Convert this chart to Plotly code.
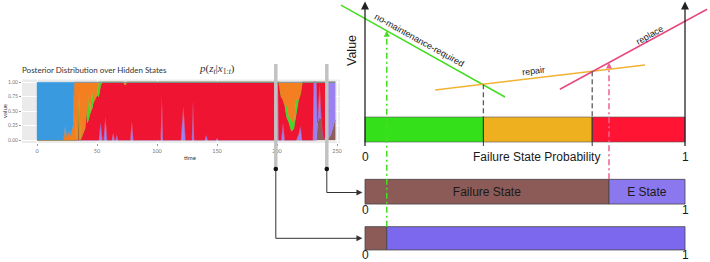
import numpy as np
import plotly.graph_objects as go

# ---------------- DATA ----------------
# Posterior distribution over hidden states (stacked, bottom -> top)
TIME = [0, 22, 23.5, 25, 26.5, 28, 30, 31, 31.6, 32.2,
        33, 34, 34.6, 35.3, 36.2, 38, 40, 41, 42, 43,
        44, 46, 47, 50, 51.5, 53, 54.5, 55.5, 57, 58.5,
        62.3, 63.5, 64.7, 65.5, 66.5, 67.5, 72, 73.5, 75, 77.7,
        79, 80.3, 103, 104, 105, 119.8, 122, 123.8, 129, 130,
        131, 139.7, 141, 142.3, 149, 150, 151, 198.8, 199.4, 200.8,
        201.5, 203.5, 205, 206.5, 208, 210, 212, 214, 216, 218,
        219.5, 221, 229.8, 230.5, 233, 233.8, 235.5, 237, 238.5, 241,
        242.3, 245, 248.5]

BROWN = [0, 0, 0, 0, 0, 0, 0, 0, 0, 0,
         0, 0, 0, 0, 0, 0, 0, 0, 0, 0,
         0, 0, 0, 0, 0, 0, 0, 0, 0, 0,
         0, 0, 0, 0, 0, 0, 0, 0, 0, 0,
         0, 0, 0, 0, 0, 0, 0, 0, 0, 0,
         0, 0, 0, 0, 0, 0, 0, 0, 0, 0,
         0, 0, 0, 0, 0, 0, 0, 0, 0, 0,
         0, 0, 0, 0, 0, 0.3, 0.4, 0.35, 0.05, 0,
         0, 0.1, 0.35]

PURPLE = [0, 0, 0, 0, 0, 0, 0, 0, 0, 0,
          0, 0, 0, 0, 0, 0, 0, 0, 0, 0,
          0, 0, 0, 0, 0, 0.32, 0, 0, 0.42, 0,
          0, 0.13, 0, 0, 0.1, 0, 0, 0, 0, 0,
          0.34, 0, 0, 0.78, 0, 0, 0.6, 0, 0, 0.69,
          0, 0, 0.09, 0, 0, 0.04, 0, 0, 0.97, 0.97,
          0, 0, 0.3, 0, 0, 0, 0, 0, 0, 0.1,
          0.25, 0, 0, 1, 1, 0, 0.6, 0, 0, 0,
          1, 0.9, 0.65]

RED = [0, 0, 0, 0, 0, 0, 0, 0, 0, 0,
       0, 0, 0.55, 0, 0, 0.1, 0.2, 0.55, 0.3, 0.35,
       0.45, 0.55, 0.65, 0.78, 0.75, 0.63, 1, 1, 0.58, 1,
       1, 0.87, 1, 1, 0.9, 1, 1, 0.95, 1, 1,
       0.66, 1, 1, 0.22, 1, 1, 0.4, 1, 1, 0.31,
       1, 1, 0.91, 1, 1, 0.96, 1, 1, 0.03, 0.03,
       1, 0.75, 0.4, 0.6, 0.4, 0.3, 0.15, 0.2, 0.45, 0.6,
       0.55, 1, 1, 0, 0, 0.7, 0, 0.65, 0.95, 1,
       0, 0, 0]

GREEN = [0, 0, 0, 0, 0, 0, 0, 0, 0, 0.45,
         0, 0, 0, 0.9, 0, 0, 0, 0, 0, 0.45,
         0, 0.3, 0, 0, 0.25, 0.05, 0, 0, 0, 0,
         0, 0, 0, 0, 0, 0, 0, 0, 0, 0,
         0, 0, 0, 0, 0, 0, 0, 0, 0, 0,
         0, 0, 0, 0, 0, 0, 0, 0, 0, 0,
         0, 0, 0, 0, 0.2, 0.1, 0.2, 0.08, 0.25, 0,
         0, 0, 0, 0, 0, 0, 0, 0, 0, 0,
         0, 0, 0]

ORANGE = [0, 0, 0.25, 0.05, 0.15, 0.08, 0.25, 1, 1, 0.55,
          1, 1, 0.45, 0.1, 1, 0.9, 0.8, 0.45, 0.7, 0.2,
          0.55, 0.15, 0.35, 0.22, 0, 0, 0, 0, 0, 0,
          0, 0, 0, 0, 0, 0, 0, 0.05, 0, 0,
          0, 0, 0, 0, 0, 0, 0, 0, 0, 0,
          0, 0, 0, 0, 0, 0, 0, 0, 0, 0,
          0, 0.25, 0.3, 0.4, 0.4, 0.6, 0.65, 0.72, 0.3, 0.3,
          0.2, 0, 0, 0, 0, 0, 0, 0, 0, 0,
          0, 0, 0]

BLUE = [1, 1, 0.75, 0.95, 0.85, 0.92, 0.75, 0, 0, 0,
        0, 0, 0, 0, 0, 0, 0, 0, 0, 0,
        0, 0, 0, 0, 0, 0, 0, 0, 0, 0,
        0, 0, 0, 0, 0, 0, 0, 0, 0, 0,
        0, 0, 0, 0, 0, 0, 0, 0, 0, 0,
        0, 0, 0, 0, 0, 0, 0, 0, 0, 0,
        0, 0, 0, 0, 0, 0, 0, 0, 0, 0,
        0, 0, 0, 0, 0, 0, 0, 0, 0, 0,
        0, 0, 0]

TIME_TICKS = [0, 50, 100, 150, 200, 250]
VALUE_TICKS = [0, 0.25, 0.5, 0.75, 1]
VALUE_TICK_LABELS = ["0.00", "0.25", "0.50", "0.75", "1.00"]

# Selected time points that feed the two probability bars
SEL_TIMES = [241.5, 199]

# Value lines of each action vs failure-state probability
NOMAINT_P = [-0.075, 0.4375]
NOMAINT_V = [0.957, 0.171]
REPAIR_P = [0.219, 0.875]
REPAIR_V = [0.231, 0.444]
REPLACE_P = [0.609, 1.069]
REPLACE_V = [0.237, 0.921]

# Decision thresholds on failure state probability
THRESHOLDS = [0.37, 0.71]
DECISION_LABELS = ["no-maintenance-required", "repair", "replace"]

# Failure-state probabilities at the two selected times
FAIL_PROB_A = 0.7625   # top bar (failure state / E state)
FAIL_PROB_B = 0.068    # bottom bar

# ---------------- STYLE / LAYOUT ----------------
W, H = 710, 262
def PX(x):
    return x / W
def PY(y):
    return 1 - y / H
def RV(y):  # right panel vertical position (pixel row -> value-axis units)
    return (117 - y) / 117.0

C_BLUE, C_ORANGE, C_GREEN = "#3A9AE0", "#F47F20", "#3EDC2A"
C_RED, C_PURPLE, C_BROWN = "#EE1432", "#9B82F0", "#8E5E58"
B_GREEN, B_ORANGE, B_RED = "#33E01A", "#EFB020", "#FF1433"
L_GREEN, L_ORANGE, L_PINK = "#44DD22", "#F2B233", "#E8497C"
F_BROWN, F_PURPLE, F_PURPLE2 = "#8C5B57", "#8B78EE", "#7B68EE"
SANS = "Liberation Sans"
TXT = "#1a1a1a"

fig = go.Figure()
shapes = []
shapes.append(dict(type="rect", xref="x", yref="y domain", x0=-12.5, x1=252.5, y0=0, y1=1,
                   fillcolor="#EBEBEB", line=dict(width=0), layer="below"))

# --- left: stacked posterior, each layer a filled path on the time/value axes ---
layers = [(BROWN, C_BROWN), (PURPLE, C_PURPLE), (RED, C_RED),
          (GREEN, C_GREEN), (ORANGE, C_ORANGE), (BLUE, C_BLUE)]
lower = np.zeros(len(TIME))
for vals, col in layers:
    upper = lower + np.array(vals, dtype=float)
    pts = [(t, u) for t, u in zip(TIME, upper)] + [(t, l) for t, l in zip(TIME[::-1], lower[::-1])]
    path = "M " + " L ".join(f"{t:.3f},{y:.4f}" for t, y in pts) + " Z"
    shapes.append(dict(type="path", xref="x", yref="y", path=path, fillcolor=col,
                       line=dict(width=0.4, color=col), layer="between"))
    lower = upper

# --- right panel ---
def vline_at(p, P, V):
    return float(np.interp(p, P, V))

v_green_tip = vline_at(FAIL_PROB_B, NOMAINT_P, NOMAINT_V)
v_pink_tip = vline_at(FAIL_PROB_A, REPLACE_P, REPLACE_V)

def seg(xs, ys, color, width=1.5, dash=None):
    fig.add_trace(go.Scatter(x=xs, y=ys, mode="lines",
                             line=dict(color=color, width=width, dash=dash),
                             hoverinfo="skip", xaxis="x2", yaxis="y2"))

def head(x, y, color, symbol="arrow-up", size=7):
    fig.add_trace(go.Scatter(x=[x], y=[y], mode="markers", cliponaxis=False,
                             marker=dict(symbol=symbol, size=size, color=color,
                                         line=dict(width=0)),
                             hoverinfo="skip", xaxis="x2", yaxis="y2"))

# invisible trace so the left axes are drawn
fig.add_trace(go.Scatter(x=[TIME[0], TIME[-1]], y=[0, 1], mode="markers",
                         marker=dict(opacity=0), hoverinfo="skip", xaxis="x", yaxis="y"))

DASHDOT = "6px,3px,2px,3px"
seg([FAIL_PROB_B, FAIL_PROB_B], [RV(226.7), v_green_tip - 0.04], L_GREEN, 1.5, DASHDOT)
seg([FAIL_PROB_A, FAIL_PROB_A], [RV(179.3), v_pink_tip - 0.04], "#F06090", 1.5, DASHDOT)

for P, V, col in [(NOMAINT_P, NOMAINT_V, L_GREEN), (REPAIR_P, REPAIR_V, L_ORANGE),
                  (REPLACE_P, REPLACE_V, L_PINK)]:
    seg(P, V, col, 1.5)

for th in THRESHOLDS:
    seg([th, th], [vline_at(th, REPAIR_P, REPAIR_V), 0], "#5a5a5a", 1.3, "5px,3px")

starts = [0] + THRESHOLDS
ends = THRESHOLDS + [1]
fig.add_trace(go.Bar(orientation="h", base=starts, x=[e - s for s, e in zip(starts, ends)],
                     y=[RV(129.5)] * 3, width=25 / 117.0,
                     marker=dict(color=[B_GREEN, B_ORANGE, B_RED], line=dict(color="#555", width=0.6)),
                     hoverinfo="skip", xaxis="x2", yaxis="y2"))
fig.add_trace(go.Bar(orientation="h", base=[0, FAIL_PROB_A], x=[FAIL_PROB_A, 1 - FAIL_PROB_A],
                     y=[RV(191.7)] * 2, width=24.7 / 117.0,
                     marker=dict(color=[F_BROWN, F_PURPLE], line=dict(color="#444", width=0.8)),
                     text=["Failure State", "E State"], textposition="inside",
                     insidetextanchor="middle", textangle=0, constraintext="none",
                     textfont=dict(family=SANS, size=12, color=TXT),
                     hoverinfo="skip", xaxis="x2", yaxis="y2"))
fig.add_trace(go.Bar(orientation="h", base=[0, FAIL_PROB_B], x=[FAIL_PROB_B, 1 - FAIL_PROB_B],
                     y=[RV(238.3)] * 2, width=23.3 / 117.0,
                     marker=dict(color=[F_BROWN, F_PURPLE2], line=dict(color="#444", width=0.8)),
                     hoverinfo="skip", xaxis="x2", yaxis="y2"))

for th in THRESHOLDS:
    seg([th, th], [0, RV(146)], "#333", 1)

for p in [0, 1]:
    seg([p, p], [RV(146), RV(6)], "#222", 1.3)
    head(p, RV(1.5), "#222", "arrow-up", 8)

head(FAIL_PROB_B, v_green_tip, L_GREEN, "arrow-up", 6)
head(FAIL_PROB_A, v_pink_tip, "#F06090", "arrow-up", 6)

annotations = []

def txt(text, x, y, size=12, color=TXT, angle=0, family=SANS, xanchor="center", xref="paper", yref="paper"):
    annotations.append(dict(text=text, x=x, y=y, xref=xref, yref=yref, showarrow=False,
                            textangle=angle, xanchor=xanchor, yanchor="middle",
                            font=dict(family=family, size=size, color=color)))

txt("Value", PX(352), PY(51), size=12.5, angle=-90)
txt("0", 0, RV(157), xref="x2", yref="y2")
txt("1", 1, RV(157), xref="x2", yref="y2")
txt("Failure State Probability", 0.535, RV(157), xref="x2", yref="y2")
txt("0", 0, RV(210), xref="x2", yref="y2")
txt("1", 1, RV(210), xref="x2", yref="y2")
txt("0", 0, RV(255), xref="x2", yref="y2")
txt("1", 1, RV(255), xref="x2", yref="y2")
txt(DECISION_LABELS[0], PX(419), PY(40), size=9, angle=29)
txt(DECISION_LABELS[1], PX(533), PY(71), size=9, angle=-7)
txt(DECISION_LABELS[2], PX(650), PY(35), size=9, angle=-29)

txt("Posterior Distribution over Hidden States", PX(20), PY(70), size=8, color="#333",
    family="Lato", xanchor="left")
txt("<i>p</i>(<i>z<sub>t</sub></i>|<i>x</i><sub>1:<i>t</i></sub>)", PX(217), PY(69), size=11,
    color="#333", family="Liberation Serif")
txt("value", PX(4), PY(111), size=6, color="#333", angle=-90, family="Lato")
txt("time", PX(190), PY(157), size=6, color="#333", family="Lato")

ARROW_END_T = 270.8
for t, yc in zip(SEL_TIMES, [192.5, 238.3]):
    shapes.append(dict(type="line", xref="x", yref="paper", x0=t, x1=t, y0=PY(64), y1=PY(169),
                       line=dict(color="#C2C2C2", width=3.5), layer="above"))
    shapes.append(dict(type="path", xref="x", yref="paper",
                       path=f"M {t},{PY(169)} L {t},{PY(yc)} L {ARROW_END_T - 3},{PY(yc)}",
                       line=dict(color="#333", width=1), layer="above"))
    shapes.append(dict(type="circle", xref="x", yref="paper", xsizemode="pixel", ysizemode="pixel",
                       xanchor=t, yanchor=PY(169), x0=-2.3, x1=2.3, y0=-2.3, y1=2.3,
                       fillcolor="#111", line=dict(width=0), layer="above"))
    head(-0.008, RV(yc), "#333", "arrow-right", 6)

fig.update_layout(
    width=W, height=H, margin=dict(l=0, r=0, t=0, b=0),
    paper_bgcolor="white", plot_bgcolor="rgba(0,0,0,0)",
    showlegend=False, barmode="overlay",
    shapes=shapes, annotations=annotations,
    xaxis=dict(domain=[PX(22), PX(365)], range=[-12.5, 273.333], anchor="y",
               tickvals=TIME_TICKS, ticks="outside", ticklen=2, tickcolor="#999",
               tickfont=dict(family="Lato", size=5.5, color="#777"),
               showgrid=True, gridcolor="white", gridwidth=0.8, zeroline=False,
               showline=False, fixedrange=True),
    yaxis=dict(domain=[PY(142.9), PY(79.4)], range=[-0.05, 1.05], anchor="x",
               tickvals=VALUE_TICKS, ticktext=VALUE_TICK_LABELS, ticks="outside",
               ticklen=2, tickcolor="#999", tickfont=dict(family="Lato", size=5, color="#777"),
               showgrid=True, gridcolor="white", gridwidth=0.8, zeroline=False,
               showline=False, fixedrange=True),
    xaxis2=dict(domain=[0, 1], range=[-365 / 320, 345 / 320], anchor="y2", visible=False,
                fixedrange=True),
    yaxis2=dict(domain=[0, 1], range=[-145 / 117, 1], anchor="x2", visible=False,
                fixedrange=True),
)

fig.write_html("out.html", config={"displayModeBar": False},
               post_script="document.body.style.margin='0px';document.body.style.overflow='hidden';")
